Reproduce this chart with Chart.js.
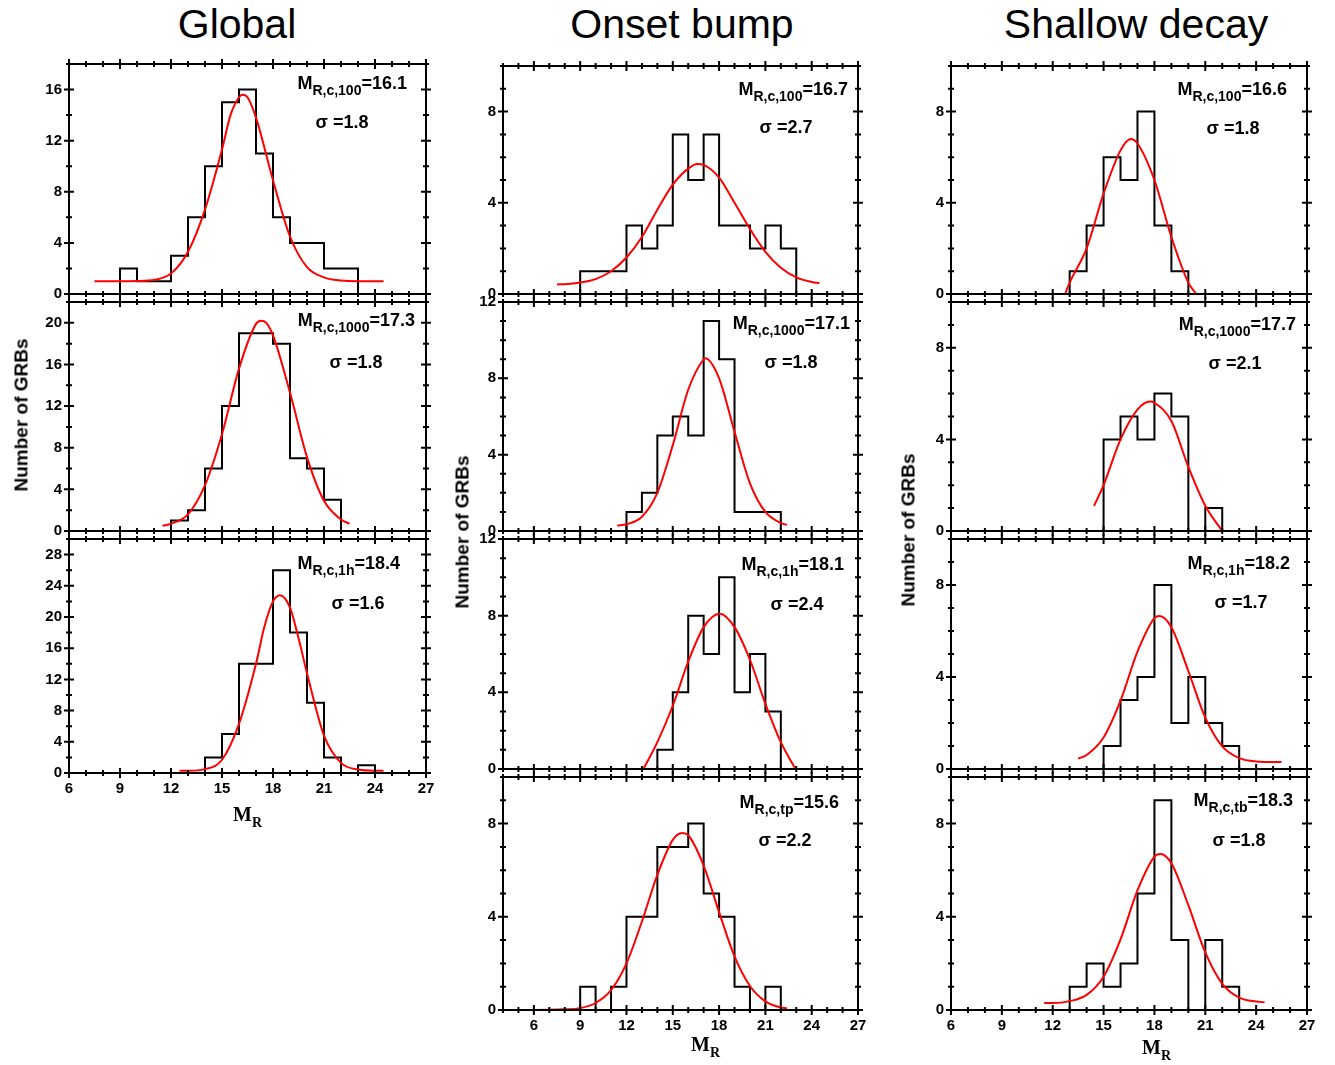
<!DOCTYPE html>
<html>
<head>
<meta charset="utf-8">
<script src="https://cdn.jsdelivr.net/npm/chart.js@4.4.1/dist/chart.umd.min.js"></script>
<style>
body { margin: 0; background: #fff; }
#fig { position: relative; width: 1335px; height: 1065px; overflow: hidden; font-family: "Liberation Sans", Arial, sans-serif; color: #000; }
#fig canvas { position: absolute; }
.title { position: absolute; font-size: 41px; line-height: 41px; white-space: nowrap; transform: translateX(-50%); }
.mlab { position: absolute; font-weight: bold; font-size: 18px; line-height: 18px; white-space: nowrap; }
.mlab sub { font-size: 14px; vertical-align: -6px; line-height: 0; }
.sig { position: absolute; font-weight: bold; font-size: 18px; line-height: 18px; white-space: nowrap; transform: translateX(-50%); }
.ytitle { position: absolute; font-weight: bold; font-size: 19px; line-height: 19px; white-space: nowrap; transform: translate(-50%, -50%) rotate(-90deg); }
.xtitle { position: absolute; font-family: "Liberation Serif", "Times New Roman", serif; font-weight: bold; font-size: 20px; line-height: 20px; white-space: nowrap; }
.xtitle sub { font-size: 14px; vertical-align: -6px; line-height: 0; }
</style>
</head>
<body>
<div id="fig"></div>
<script>
// histogram bins are 1 mag wide, first bin starts at *Start
// Global
const global100Start = 9;
const global100Counts = [2, 1, 1, 3, 6, 10, 15, 16, 11, 6, 4, 4, 2, 2];
const global100FitX = [7.5, 9, 10, 11, 12, 13, 14, 15, 15.5, 16, 16.2, 16.5, 17, 18, 19, 20, 21, 22, 23, 24.5];
const global100FitY = [1.0, 1.0, 1.02, 1.1, 1.6, 3.3, 6.6, 11.3, 14.0, 15.4, 15.6, 15.4, 13.8, 8.9, 4.5, 2.1, 1.3, 1.05, 1.0, 1.0];

const global1000Start = 12;
const global1000Counts = [1, 2, 6, 12, 19, 19, 18, 7, 6, 3];
const global1000FitX = [11.5, 12, 13, 14, 15, 16, 17, 17.3, 17.6, 18, 19, 20, 21, 22, 22.5];
const global1000FitY = [0.5, 0.7, 1.6, 4.4, 9.3, 15.6, 19.9, 20.2, 20.0, 18.8, 13.3, 7.1, 2.9, 1.1, 0.7];

const global1hStart = 14;
const global1hCounts = [2, 5, 14, 14, 26, 18, 9, 2, 0, 1];
const global1hFitX = [12.5, 13, 14, 15, 16, 17, 17.5, 18, 18.4, 19, 19.5, 20, 21, 22, 23, 24, 24.5];
const global1hFitY = [0.3, 0.3, 0.5, 1.7, 6.3, 14.0, 18.8, 22.0, 22.8, 21.2, 17.3, 12.8, 4.8, 1.3, 0.45, 0.3, 0.3];

// Onset bump
const onset100Start = 9;
const onset100Counts = [1, 1, 1, 3, 2, 3, 7, 5, 7, 3, 3, 2, 3, 2];
const onset100FitX = [7.5, 8, 9, 10, 11, 12, 13, 14, 15, 16, 16.6, 17, 18, 19, 20, 21, 22, 23, 24, 24.5];
const onset100FitY = [0.42, 0.43, 0.5, 0.65, 1.0, 1.6, 2.5, 3.7, 4.8, 5.5, 5.7, 5.66, 5.1, 4.0, 2.85, 1.85, 1.15, 0.73, 0.53, 0.48];

const onset1000Start = 12;
const onset1000Counts = [1, 2, 5, 6, 5, 11, 9, 1, 1, 1];
const onset1000FitX = [11.4, 12, 13, 14, 15, 16, 17, 17.1, 18, 19, 20, 21, 22, 22.4];
const onset1000FitY = [0.29, 0.35, 0.75, 2.0, 4.5, 7.4, 9.0, 9.05, 8.0, 5.2, 2.5, 1.0, 0.42, 0.32];

const onset1hStart = 14;
const onset1hCounts = [1, 4, 8, 6, 10, 4, 6, 3];
const onset1hFitX = [13.1, 14, 15, 16, 17, 18.05, 19, 20, 21, 22, 22.95];
const onset1hFitY = [0, 1.4, 3.3, 5.6, 7.4, 8.1, 7.4, 5.7, 3.4, 1.4, 0];

const onsetTpStart = 9;
const onsetTpCounts = [1, 0, 1, 4, 4, 7, 7, 8, 5, 4, 1, 0, 1];
const onsetTpFitX = [4, 6, 8, 9, 10, 11, 12, 13, 14, 15, 15.6, 16, 17, 18, 19, 20, 21, 22, 22.4];
const onsetTpFitY = [0, 0, 0.03, 0.08, 0.3, 0.85, 2.0, 3.8, 5.8, 7.3, 7.6, 7.5, 6.2, 4.2, 2.3, 1.03, 0.37, 0.11, 0.07];

// Shallow decay
const shallow100Start = 13;
const shallow100Counts = [1, 3, 6, 5, 8, 3, 1];
const shallow100FitX = [12.73, 13, 14, 15, 16, 16.6, 17, 18, 19, 20, 20.47];
const shallow100FitY = [0, 0.5, 2.0, 4.4, 6.3, 6.8, 6.6, 5.0, 2.5, 0.5, 0];

const shallow1000Start = 15;
const shallow1000Counts = [4, 5, 4, 6, 5, 0, 1];
const shallow1000FitX = [14.44, 15, 16, 17, 17.75, 18, 19, 20, 21, 22];
const shallow1000FitY = [1.1, 2.0, 4.0, 5.3, 5.65, 5.6, 4.8, 2.8, 1.1, 0];

const shallow1hStart = 15;
const shallow1hCounts = [1, 3, 4, 8, 2, 4, 2, 1];
const shallow1hFitX = [13.5, 14, 15, 16, 17, 18, 18.3, 19, 20, 21, 22, 23, 24, 25.5];
const shallow1hFitY = [0.45, 0.61, 1.37, 2.97, 5.1, 6.56, 6.65, 6.16, 4.26, 2.23, 0.98, 0.47, 0.33, 0.3];

const shallowTbStart = 13;
const shallowTbCounts = [1, 2, 1, 2, 5, 9, 3, 0, 3, 1];
const shallowTbFitX = [11.5, 12, 13, 14, 15, 16, 17, 18, 18.35, 19, 20, 21, 22, 23, 24, 24.5];
const shallowTbFitY = [0.3, 0.3, 0.38, 0.65, 1.43, 3.03, 5.13, 6.58, 6.7, 6.3, 4.5, 2.47, 1.12, 0.53, 0.36, 0.33];

// labels
const columnTitles = ['Global', 'Onset bump', 'Shallow decay'];
const fitSubs = ['R,c,100', 'R,c,1000', 'R,c,1h', 'R,c,100', 'R,c,1000', 'R,c,1h', 'R,c,tp', 'R,c,100', 'R,c,1000', 'R,c,1h', 'R,c,tb'];
const fitPeaks = ['16.1', '17.3', '18.4', '16.7', '17.1', '18.1', '15.6', '16.6', '17.7', '18.2', '18.3'];
const fitSigmas = ['1.8', '1.8', '1.6', '2.7', '1.8', '2.4', '2.2', '1.8', '2.1', '1.7', '1.8'];

// axis ranges
const xMins = [6, 4, 6];
const xMax = 27;
const yMaxes = [[18, 22, 30], [10, 12, 12, 10], [10, 10, 10, 10]];
const yMinor = [2, 1, 1];

// layout (page pixels of each plot frame)
const colLeft = [69, 503, 951];
const colWidth = [357, 355, 356];
const rowEdges = [[60, 298, 535, 773], [62, 298, 535, 773, 1010], [62, 298, 535, 773, 1010]];
const titleX = [237, 682, 1136];
const mLabelPos = [[407, 76], [415, 313], [400, 556], [848, 82], [850, 316], [844, 557], [839, 795], [1287, 82], [1296, 317], [1290, 556], [1293, 793]];
const sigmaPos = [[342, 115], [356, 355], [358, 596], [786, 120], [791, 355], [797, 597], [785, 833], [1233, 121], [1235, 356], [1241, 595], [1239, 833]];
const yTitlePos = [[21, 415], [462, 532], [908, 530]];
const xTitlePos = [[233, 804], [691, 1034], [1142, 1037]];

const hists = [
    [[global100Start, global100Counts, global100FitX, global100FitY],
     [global1000Start, global1000Counts, global1000FitX, global1000FitY],
     [global1hStart, global1hCounts, global1hFitX, global1hFitY]],
    [[onset100Start, onset100Counts, onset100FitX, onset100FitY],
     [onset1000Start, onset1000Counts, onset1000FitX, onset1000FitY],
     [onset1hStart, onset1hCounts, onset1hFitX, onset1hFitY],
     [onsetTpStart, onsetTpCounts, onsetTpFitX, onsetTpFitY]],
    [[shallow100Start, shallow100Counts, shallow100FitX, shallow100FitY],
     [shallow1000Start, shallow1000Counts, shallow1000FitX, shallow1000FitY],
     [shallow1hStart, shallow1hCounts, shallow1hFitX, shallow1hFitY],
     [shallowTbStart, shallowTbCounts, shallowTbFitX, shallowTbFitY]]
];

Chart.defaults.font.family = "'Liberation Sans', Arial, sans-serif";
Chart.defaults.color = '#000';

// box with ticks crossing all four sides
const framePlugin = {
    id: 'frame',
    afterDraw(chart, args, opts) {
        const ctx = chart.ctx;
        const a = chart.chartArea;
        const x = chart.scales.x, y = chart.scales.y;
        ctx.save();
        ctx.strokeStyle = '#000';
        ctx.lineWidth = 2;
        ctx.strokeRect(a.left, a.top, a.right - a.left, a.bottom - a.top);
        ctx.beginPath();
        for (let v = Math.ceil(x.min); v <= x.max; v++) {
            const px = x.getPixelForValue(v);
            const len = v % 3 === 0 ? 5 : 3;
            ctx.moveTo(px, a.bottom - len); ctx.lineTo(px, a.bottom + len);
            ctx.moveTo(px, a.top - len); ctx.lineTo(px, a.top + len);
        }
        for (let v = y.min; v <= y.max; v += opts.minor) {
            const py = y.getPixelForValue(v);
            const len = v % 4 === 0 ? 5 : 3;
            ctx.moveTo(a.left - len, py); ctx.lineTo(a.left + len, py);
            ctx.moveTo(a.right - len, py); ctx.lineTo(a.right + len, py);
        }
        ctx.stroke();
        ctx.restore();
    }
};

function histPoints(start, counts) {
    const pts = [{ x: start, y: 0 }];
    counts.forEach((c, i) => pts.push({ x: start + i + 1, y: c }));
    pts.push({ x: start + counts.length, y: 0 });
    return pts;
}

// labelled ticks only at multiples of step
function majorTicks(step) {
    return scale => {
        const list = [];
        for (let v = Math.ceil(scale.min / step) * step; v <= scale.max; v += step) list.push({ value: v });
        scale.ticks = list;
    };
}

const fig = document.getElementById('fig');
const padL = 50, padT = 12, padR = 16;
let k = 0;

for (let c = 0; c < 3; c++) {
    const rows = hists[c];
    for (let r = 0; r < rows.length; r++) {
        const [start, counts, fitX, fitY] = rows[r];
        const isBottom = r === rows.length - 1;
        const top = rowEdges[c][r];
        const h = rowEdges[c][r + 1] - top;
        const w = colWidth[c];
        const xh = isBottom ? 40 : 12;

        const canvas = document.createElement('canvas');
        canvas.width = w + padL + padR;
        canvas.height = h + padT + xh;
        canvas.style.left = (colLeft[c] - padL) + 'px';
        canvas.style.top = (top - padT) + 'px';
        fig.appendChild(canvas);

        new Chart(canvas, {
            type: 'line',
            data: {
                datasets: [
                    {
                        data: fitX.map((v, i) => ({ x: v, y: fitY[i] })),
                        borderColor: '#ff0000',
                        borderWidth: 2,
                        pointRadius: 0,
                        fill: false,
                        cubicInterpolationMode: 'monotone'
                    },
                    {
                        data: histPoints(start, counts),
                        borderColor: '#000',
                        borderWidth: 2,
                        pointRadius: 0,
                        fill: false,
                        stepped: 'after'
                    }
                ]
            },
            options: {
                responsive: false,
                animation: false,
                events: [],
                layout: { padding: { top: padT, right: padR, left: 0, bottom: 0 } },
                plugins: {
                    legend: { display: false },
                    tooltip: { enabled: false },
                    frame: { minor: yMinor[c] }
                },
                scales: {
                    x: {
                        type: 'linear',
                        min: xMins[c],
                        max: xMax,
                        afterBuildTicks: majorTicks(3),
                        afterFit: s => { s.height = xh; },
                        grid: { display: false, drawTicks: false },
                        border: { display: false },
                        ticks: {
                            display: isBottom,
                            autoSkip: false,
                            maxRotation: 0,
                            padding: 7,
                            font: { size: 15, weight: 'bold' }
                        }
                    },
                    y: {
                        min: 0,
                        max: yMaxes[c][r],
                        afterBuildTicks: majorTicks(4),
                        afterFit: s => { s.width = padL; },
                        grid: { display: false, drawTicks: false },
                        border: { display: false },
                        ticks: {
                            autoSkip: false,
                            padding: 7,
                            font: { size: 15, weight: 'bold' }
                        }
                    }
                }
            },
            plugins: [framePlugin]
        });

        // fit annotations
        const m = document.createElement('div');
        m.className = 'mlab';
        m.innerHTML = 'M<sub>' + fitSubs[k] + '</sub>=' + fitPeaks[k];
        m.style.right = (1335 - mLabelPos[k][0]) + 'px';
        m.style.top = (mLabelPos[k][1] - 2) + 'px';
        fig.appendChild(m);

        const s = document.createElement('div');
        s.className = 'sig';
        s.textContent = '\u03c3 =' + fitSigmas[k];
        s.style.left = sigmaPos[k][0] + 'px';
        s.style.top = (sigmaPos[k][1] - 2) + 'px';
        fig.appendChild(s);
        k++;
    }

    const t = document.createElement('div');
    t.className = 'title';
    t.textContent = columnTitles[c];
    t.style.left = titleX[c] + 'px';
    t.style.top = '4px';
    fig.appendChild(t);

    const yt = document.createElement('div');
    yt.className = 'ytitle';
    yt.textContent = 'Number of GRBs';
    yt.style.left = yTitlePos[c][0] + 'px';
    yt.style.top = yTitlePos[c][1] + 'px';
    fig.appendChild(yt);

    const xt = document.createElement('div');
    xt.className = 'xtitle';
    xt.innerHTML = 'M<sub>R</sub>';
    xt.style.left = xTitlePos[c][0] + 'px';
    xt.style.top = xTitlePos[c][1] + 'px';
    fig.appendChild(xt);
}
</script>
</body>
</html>
